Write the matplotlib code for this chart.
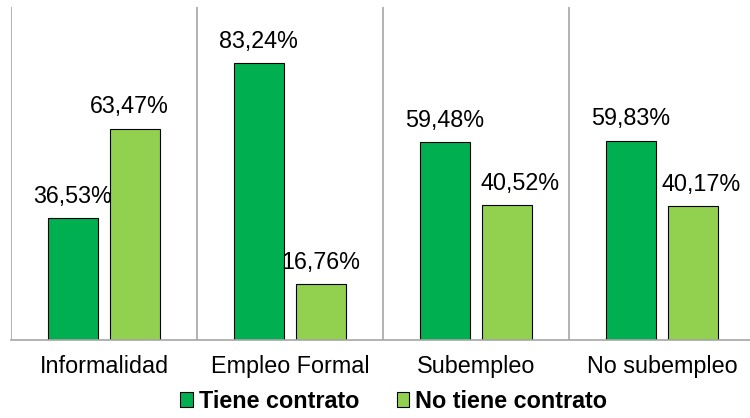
import matplotlib.pyplot as plt
import numpy as np
from matplotlib.patches import Patch

plt.rcParams['font.family'] = ['Liberation Sans', 'DejaVu Sans']

categorias = ['Informalidad', 'Empleo Formal', 'Subempleo', 'No subempleo']
tiene_contrato = [36.53, 83.24, 59.48, 59.83]
no_tiene_contrato = [63.47, 16.76, 40.52, 40.17]
series = ['Tiene contrato', 'No tiene contrato']

verde = '#00B050'
verde_claro = '#92D050'
gris = '#A6A6A6'
fs = 16.8

fig = plt.figure(figsize=(7.5, 4.18), dpi=100)
ax = fig.add_axes([11/750, 78/418, 744/750, 333/418])

x = np.arange(len(categorias))
w = 0.27
off = 0.168
b1 = ax.bar(x - off, tiene_contrato, w, color=verde, edgecolor='black', linewidth=0.8)
b2 = ax.bar(x + off, no_tiene_contrato, w, color=verde_claro, edgecolor='black', linewidth=0.8)

# etiquetas de valor, algunas desplazadas a la derecha
desp1 = [0, 0, 0, 0]
desp2 = [-4, 0, 9, 6]
for bars, vals, desp in ((b1, tiene_contrato, desp1), (b2, no_tiene_contrato, desp2)):
	for r, v, d in zip(bars, vals, desp):
		ax.annotate(f'{v:.2f}%'.replace('.', ','),
					(r.get_x() + r.get_width()/2, v),
					xytext=(d, 11), textcoords='offset points',
					ha='center', va='baseline', fontsize=fs)

ax.set_xlim(-0.5, len(categorias) - 0.5)
ax.set_ylim(0, 100)
for k in range(len(categorias)):
	ax.axvline(k - 0.5, color=gris, linewidth=1.2)

ax.set_xticks(x)
ax.set_xticklabels(categorias, fontsize=fs)
ax.tick_params(axis='x', length=0, pad=11)
ax.set_yticks([])
for s in ['top', 'right', 'left']:
	ax.spines[s].set_visible(False)
ax.spines['bottom'].set_color(gris)
ax.spines['bottom'].set_linewidth(1.2)

handles = [Patch(facecolor=verde, edgecolor='black', linewidth=0.8),
		   Patch(facecolor=verde_claro, edgecolor='black', linewidth=0.8)]
fig.legend(handles, series, loc='center', bbox_to_anchor=(0.525, 0.04),
		   ncol=2, frameon=False, prop={'size': fs, 'weight': 'bold'},
		   handlelength=0.55, handleheight=0.55, handletextpad=0.25,
		   columnspacing=1.6)

plt.savefig('out.png', dpi=100)
